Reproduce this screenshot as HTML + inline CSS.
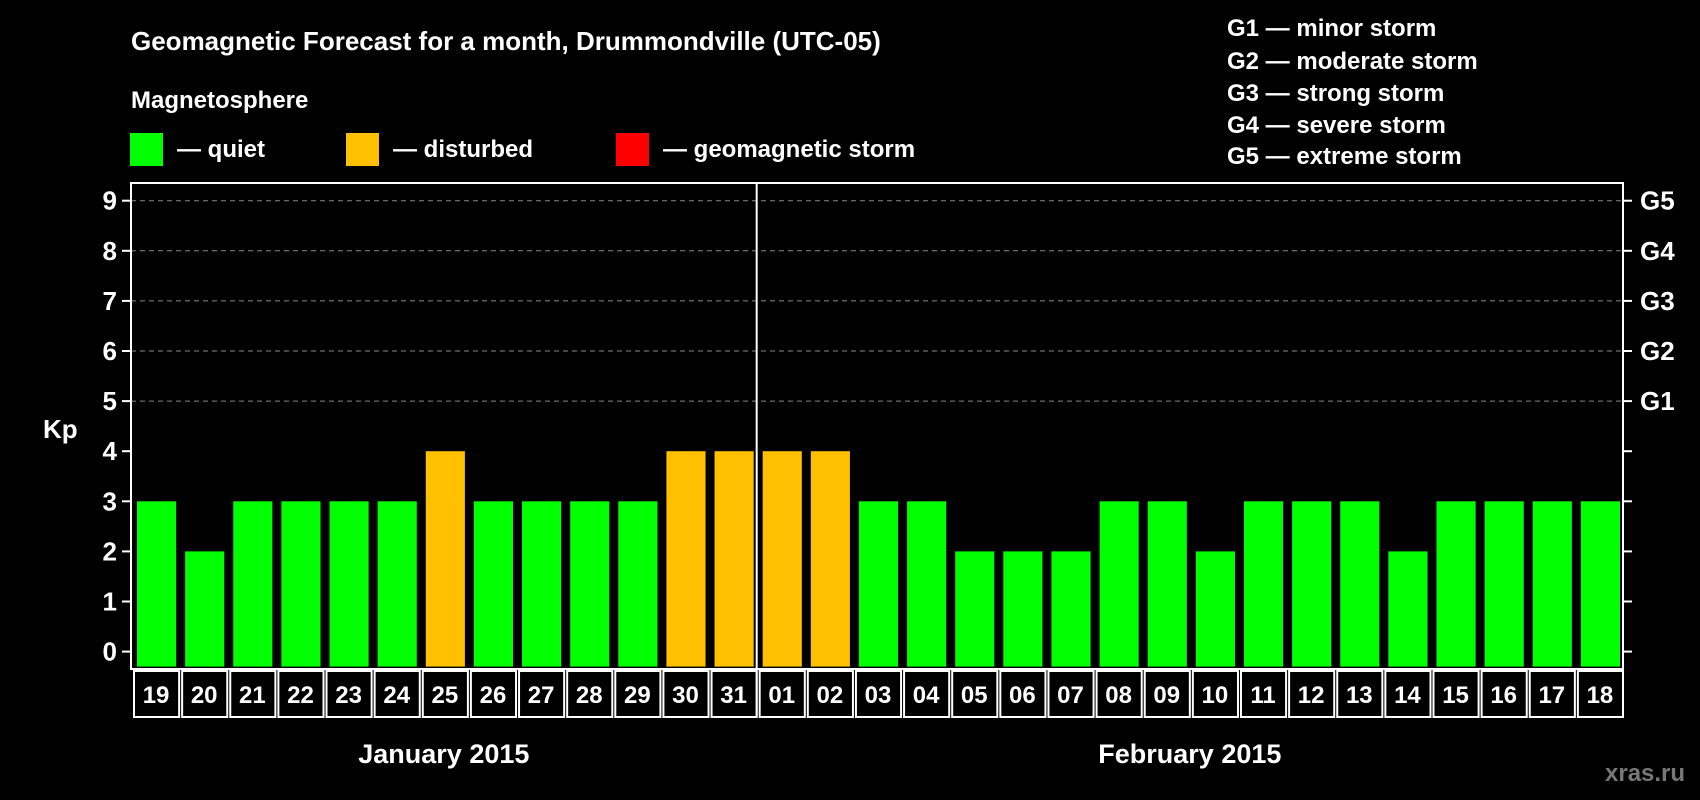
<!DOCTYPE html>
<html><head><meta charset="utf-8"><style>
html,body{margin:0;padding:0;background:#000;}
svg{display:block;font-family:"Liberation Sans",Arial,sans-serif;font-weight:bold;}
</style></head><body>
<svg id="chart" width="1700" height="800" viewBox="0 0 1700 800" xmlns="http://www.w3.org/2000/svg">
<rect x="0" y="0" width="1700" height="800" fill="#000"/>
<text x="131" y="50" fill="#fff" font-size="26">Geomagnetic Forecast for a month, Drummondville (UTC-05)</text>
<text x="131" y="108" fill="#fff" font-size="24">Magnetosphere</text>
<g><rect x="130" y="133" width="33" height="33" fill="#00ff00"/><text x="177" y="157" fill="#fff" font-size="24">— quiet</text></g>
<g><rect x="346" y="133" width="33" height="33" fill="#ffc000"/><text x="393" y="157" fill="#fff" font-size="24">— disturbed</text></g>
<g><rect x="616" y="133" width="33" height="33" fill="#ff0000"/><text x="663" y="157" fill="#fff" font-size="24">— geomagnetic storm</text></g>
<g fill="#fff" font-size="24">
<text x="1227" y="36">G1 — minor storm</text>
<text x="1227" y="69">G2 — moderate storm</text>
<text x="1227" y="101">G3 — strong storm</text>
<text x="1227" y="133">G4 — severe storm</text>
<text x="1227" y="164">G5 — extreme storm</text>
</g>
<text x="43" y="438" fill="#fff" font-size="26">Kp</text>
<g id="grid"></g>
<g id="bars"></g>
<g id="axes"></g>
<text x="1605" y="781" fill="#777" font-size="24">xras.ru</text>
</svg>
<script>
const days = ["19","20","21","22","23","24","25","26","27","28","29","30","31","01","02","03","04","05","06","07","08","09","10","11","12","13","14","15","16","17","18"];
const kp = [3,2,3,3,3,3,4,3,3,3,3,4,4,4,4,3,3,2,2,2,3,3,2,3,3,3,2,3,3,3,3];
const yTicks = [0,1,2,3,4,5,6,7,8,9];
const gLabels = ["G1","G2","G3","G4","G5"];
const months = ["January 2015","February 2015"];
const monthSplit = 13;

const L=131,R=1623,T=183,B=669;
const y0=651.6,yPer=50.1;
const NS="http://www.w3.org/2000/svg";
const slot=(R-L)/days.length;
function y(v){return y0-v*yPer;}
function x(i){return L+i*slot;}
function mk(tag,attrs,parent,txt){const e=document.createElementNS(NS,tag);for(const k in attrs)e.setAttribute(k,attrs[k]);if(txt!==undefined)e.textContent=txt;parent.appendChild(e);return e;}
const grid=document.getElementById('grid'),bars=document.getElementById('bars'),axes=document.getElementById('axes');
yTicks.forEach(v=>{
  if(v>=5){const g=mk('line',{x1:L,x2:R,y1:y(v),y2:y(v),stroke:'#888','stroke-dasharray':'5,4','stroke-width':1},grid);
  
  }
  mk('line',{x1:L-9,x2:L,y1:y(v),y2:y(v),stroke:'#fff','stroke-width':2},axes);
  mk('line',{x1:R,x2:R+9,y1:y(v),y2:y(v),stroke:'#fff','stroke-width':2},axes);
  const t=mk('text',{x:L-14,y:y(v)+9,fill:'#fff','font-size':26,'text-anchor':'end'},axes,String(v));
  
  
});
gLabels.forEach((g,i)=>{
  const t=mk('text',{x:R+17,y:y(5+i)+9,fill:'#fff','font-size':26},axes,g);
  
  
});
kp.forEach((v,i)=>{
  const r=mk('rect',{x:x(i)+6,y:y(v),width:slot-9,height:y0+15-y(v),fill:v>=5?'#ff0000':(v>=4?'#ffc000':'#00ff00')},bars);
  
  
  mk('rect',{x:x(i)+3,y:B+2,width:slot-3,height:46,fill:'none',stroke:'#fff','stroke-width':2},axes);
  const t=mk('text',{x:x(i)+slot/2+1,y:B+34,fill:'#fff','font-size':24,'text-anchor':'middle'},axes,days[i]);
  
  
});
const fr=mk('rect',{x:L,y:T,width:R-L,height:B-T,fill:'none',stroke:'#fff','stroke-width':2},axes);


const sx=x(monthSplit);
mk('line',{x1:sx,x2:sx,y1:T,y2:B+48,stroke:'#fff','stroke-width':2},axes);
const m1=mk('text',{x:(L+sx)/2,y:763,fill:'#fff','font-size':27,'text-anchor':'middle'},axes,months[0]);


const m2=mk('text',{x:(sx+R)/2,y:763,fill:'#fff','font-size':27,'text-anchor':'middle'},axes,months[1]);


</script>
</body></html>
